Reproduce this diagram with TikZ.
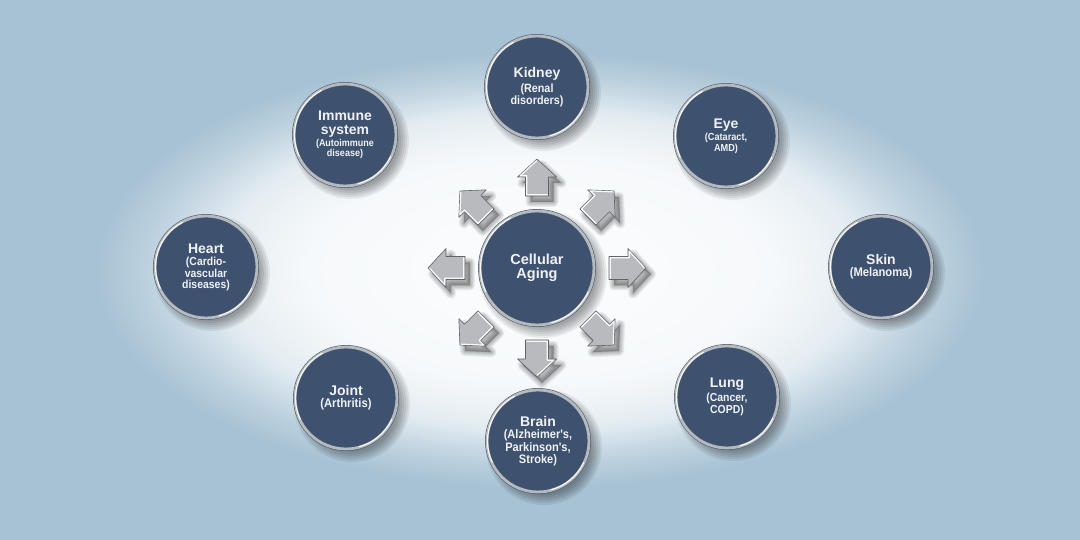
\documentclass[tikz,border=0pt]{standalone}
\usepackage{fontspec}
\setmainfont{Liberation Sans}
\newfontfamily\subfam{Liberation Sans}[FakeStretch=0.9]
\definecolor{bg}{RGB}{167,194,212}
\definecolor{disc}{RGB}{62,81,110}
\definecolor{ring}{RGB}{178,186,196}
\definecolor{ringdark}{RGB}{78,86,98}
\definecolor{txt}{RGB}{238,242,246}
\definecolor{arrowfill}{RGB}{184,186,190}
\definecolor{arrowline}{RGB}{96,100,106}
\pgfdeclareradialshading{glow}{\pgfpoint{0bp}{0bp}}{color(0bp)=(white!96!bg); color(13bp)=(white!90!bg); color(18bp)=(white!70!bg); color(22bp)=(white!25!bg); color(25bp)=(bg); color(50bp)=(bg)}
\newcommand\ttlfont{\rmfamily\fontsize{14}{15}\selectfont\bfseries}
\newcommand\subfnt[1]{\subfam\fontsize{#1}{10.6}\selectfont\bfseries}
\begin{document}
\begin{tikzpicture}[x=1pt,y=1pt,
  bubble/.style={circle, fill=disc, draw=ringdark, double=ring, double distance=2.8pt,
    line width=0.55pt, minimum size=102pt, inner sep=0pt, align=center, text=txt,
    font=\subfnt{11.5}},
  bigbubble/.style={bubble, minimum size=114pt, font=\rmfamily\fontsize{14.5}{14.5}\selectfont\bfseries},
  shadowfill/.style={fill=black, opacity=0.065},
  arrowshadow/.style={fill=black, draw=black, opacity=0.06, line join=round},
  hl/.style={white, line width=1.1pt, line cap=round, opacity=0.9},
  arrowbody/.style={fill=arrowfill, draw=arrowline, line width=0.6pt, line join=round},
  arrowhl/.style={white, line width=1.2pt, line cap=round, line join=round, opacity=0.9}
]
\useasboundingbox (0,0) rectangle (1080,540);
\fill[bg] (0,0) rectangle (1080,540);
\shade[shading=glow] (540,270) ellipse [x radius=445, y radius=218];

% circle shadows
\foreach \x/\y/\r in {537/453/51, 345/405/51, 726/404/51, 206/273/51, 881/273/51, 346/142/51, 727/143/51, 538/99/51, 537/272/57}{
  \foreach \k in {-2,0,...,8}{
    \fill[shadowfill] (\x+6,\y-6) circle (\r-1+\k);
  }
}

% arrow shadows
\foreach \a in {0,45,...,315}{
  \begin{scope}[shift={(542,266)}, rotate=\a]
    \foreach \k in {2,4,6,8,10}{
      \filldraw[arrowshadow, line width=\k pt]
        (72,-11.5) -- (91,-11.5) -- (91,-19.5) -- (109,0) -- (91,19.5) -- (91,11.5) -- (72,11.5) -- cycle;
    }
  \end{scope}
}

% arrows
\foreach \a/\nm in {0/ar0,45/ar45,90/ar90,135/ar135,180/ar180,225/ar225,270/ar270,315/ar315}{
  \begin{scope}[shift={(537,272)}, rotate=\a]
    \coordinate (\nm) at (90,0);
    \draw[arrowbody]
      (72,-11.5) -- (91,-11.5) -- (91,-19.5) -- (109,0) -- (91,19.5) -- (91,11.5) -- (72,11.5) -- cycle;
    \draw[arrowhl] (73.2,-10.3) -- (73.2,10.3) -- (92.2,10.3) -- (92.2,16.8) -- (107.3,0.4);
  \end{scope}
}

% nodes
\node[bubble, font=\subfnt{12}] (kidney) at (537,453) {{\ttlfont Kidney}\\[2pt](Renal\\disorders)};
\node[bubble, font=\subfnt{10}] (immune) at (345,405) {{\ttlfont Immune}\\[3pt]{\ttlfont system}\\[1.5pt](Autoimmune\\disease)};
\node[bubble, font=\subfnt{10.2}] (eye) at (726,404) {{\ttlfont Eye}\\[2pt](Cataract,\\AMD)};
\node[bubble, font=\subfnt{11.6}] (heart) at (206,273) {{\ttlfont Heart}\\[2pt](Cardio-\\vascular\\diseases)};
\node[bubble, font=\subfnt{12.5}] (skin) at (881,273) {{\ttlfont Skin}\\[1pt](Melanoma)};
\node[bubble, font=\subfnt{12.5}] (joint) at (346,142) {{\ttlfont Joint}\\[1pt](Arthritis)};
\node[bubble, font=\subfnt{11.6}] (lung) at (727,143) {{\ttlfont Lung}\\[2pt](Cancer,\\COPD)};
\node[bubble, font=\subfnt{12.3}] (brain) at (538,99) {{\ttlfont Brain}\\[2pt](Alzheimer's,\\Parkinson's,\\Stroke)};
\node[bigbubble] (aging) at (537,272) {Cellular\\Aging};

% highlights on rings
\foreach \n/\r in {kidney/51, immune/51, eye/51, heart/51, skin/51, joint/51, lung/51, brain/51, aging/57}{
  \draw[hl] (\n.center) ++(118:\r pt-0.5pt) arc[start angle=118, end angle=205, radius=\r pt-0.5pt];
  \draw[hl] (\n.center) ++(285:\r pt-0.5pt) arc[start angle=285, end angle=335, radius=\r pt-0.5pt];
}
\end{tikzpicture}
\end{document}
